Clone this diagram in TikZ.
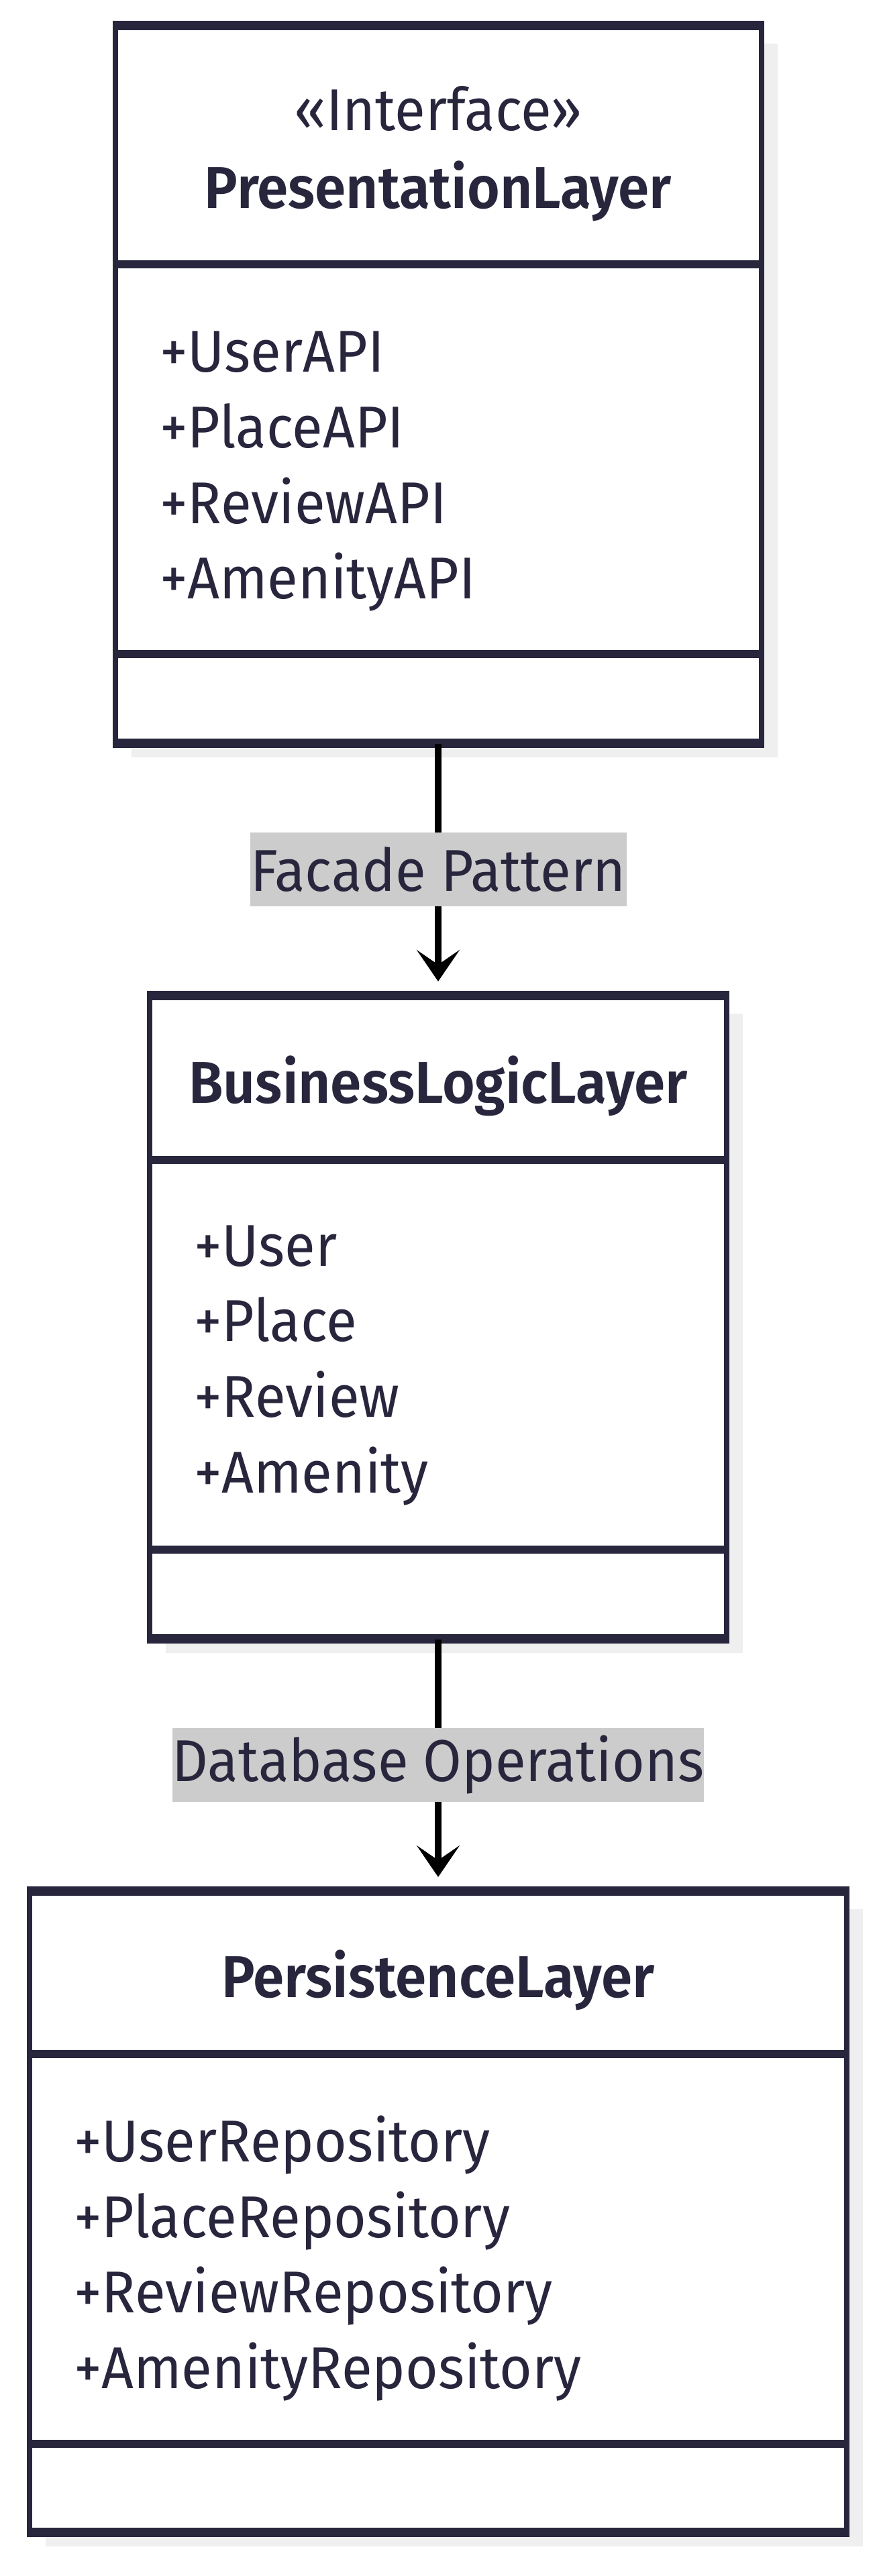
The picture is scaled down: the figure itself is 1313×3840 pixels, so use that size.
\documentclass[tikz,border=0pt]{standalone}
\usepackage{fontspec}
\setmainfont{Fira Sans}[FakeStretch=0.95, BoldFont={Fira Sans SemiBold}]
\usetikzlibrary{arrows.meta,shadows}
\definecolor{ink}{HTML}{28263D}
\definecolor{shade}{HTML}{EFEFEF}
\definecolor{tag}{HTML}{CCCCCC}
\begin{document}
\begin{tikzpicture}[x=1pt,y=-1pt,
  font=\fontsize{88}{100}\selectfont,
  classbox/.style={draw=ink, line width=8pt, fill=white, inner sep=0pt,
    drop shadow={shadow xshift=24pt, shadow yshift=-24pt, fill=shade, opacity=1, draw=none}},
  hline/.style={draw=ink, line width=12pt},
  heading/.style={anchor=mid, inner sep=0pt, text=ink},
  title/.style={heading, font=\fontsize{88}{100}\selectfont\bfseries},
  member/.style={anchor=mid west, inner sep=0pt, text=ink},
  link/.style={draw=black, line width=10pt, shorten >=20pt,
    -{Stealth[length=47pt, width=64pt, inset=22pt]}},
  tagbox/.style={fill=tag, text=ink, inner sep=0pt, minimum width=561pt, minimum height=110pt}
]
\useasboundingbox (0,0) rectangle (1313,3840);

% class boxes
\node[classbox, minimum width=963pt, minimum height=1063pt] (b1) at (653,573) {};
\node[classbox, minimum width=860pt, minimum height=953pt] (b2) at (653,1963.5) {};
\node[classbox, minimum width=1218pt, minimum height=950pt] (b3) at (653,3297) {};

% heavier horizontal rules: outer top/bottom and compartment separators
\foreach \b in {b1,b2,b3}{
  \draw[hline] (\b.north west) -- (\b.north east);
  \draw[hline] (\b.south west) -- (\b.south east);
}
\draw[hline] (b1.west |- 0,394) -- (b1.east |- 0,394);
\draw[hline] (b1.west |- 0,975) -- (b1.east |- 0,975);
\draw[hline] (b2.west |- 0,1729) -- (b2.east |- 0,1729);
\draw[hline] (b2.west |- 0,2310) -- (b2.east |- 0,2310);
\draw[hline] (b3.west |- 0,3062) -- (b3.east |- 0,3062);
\draw[hline] (b3.west |- 0,3643) -- (b3.east |- 0,3643);

% PresentationLayer
\node[heading] (s1) at (653,192) {«Interface»};
\node[title] (n1) at (653,308) {PresentationLayer};
\node[member] (p1) at (238,552) {+UserAPI};
\node[member] (p2) at (238,665) {+PlaceAPI};
\node[member] (p3) at (238,778) {+ReviewAPI};
\node[member] (p4) at (238,890) {+AmenityAPI};

% BusinessLogicLayer
\node[title] (n2) at (653,1642) {BusinessLogicLayer};
\node[member] (q1) at (289,1885) {+User};
\node[member] (q2) at (289,1997) {+Place};
\node[member] (q3) at (289,2110) {+Review};
\node[member] (q4) at (289,2223) {+Amenity};

% PersistenceLayer
\node[title] (n3) at (653,2975) {PersistenceLayer};
\node[member] (r1) at (110,3220) {+UserRepository};
\node[member] (r2) at (110,3333) {+PlaceRepository};
\node[member] (r3) at (110,3445) {+ReviewRepository};
\node[member] (r4) at (110,3558) {+AmenityRepository};

% dependencies between layers
\draw[link] (b1.south) -- node[tagbox] (l1) {Facade Pattern} (b2.north);
\draw[link] (b2.south) -- node[tagbox, minimum width=776pt] (l2) {Database Operations} (b3.north);
\end{tikzpicture}
\end{document}
